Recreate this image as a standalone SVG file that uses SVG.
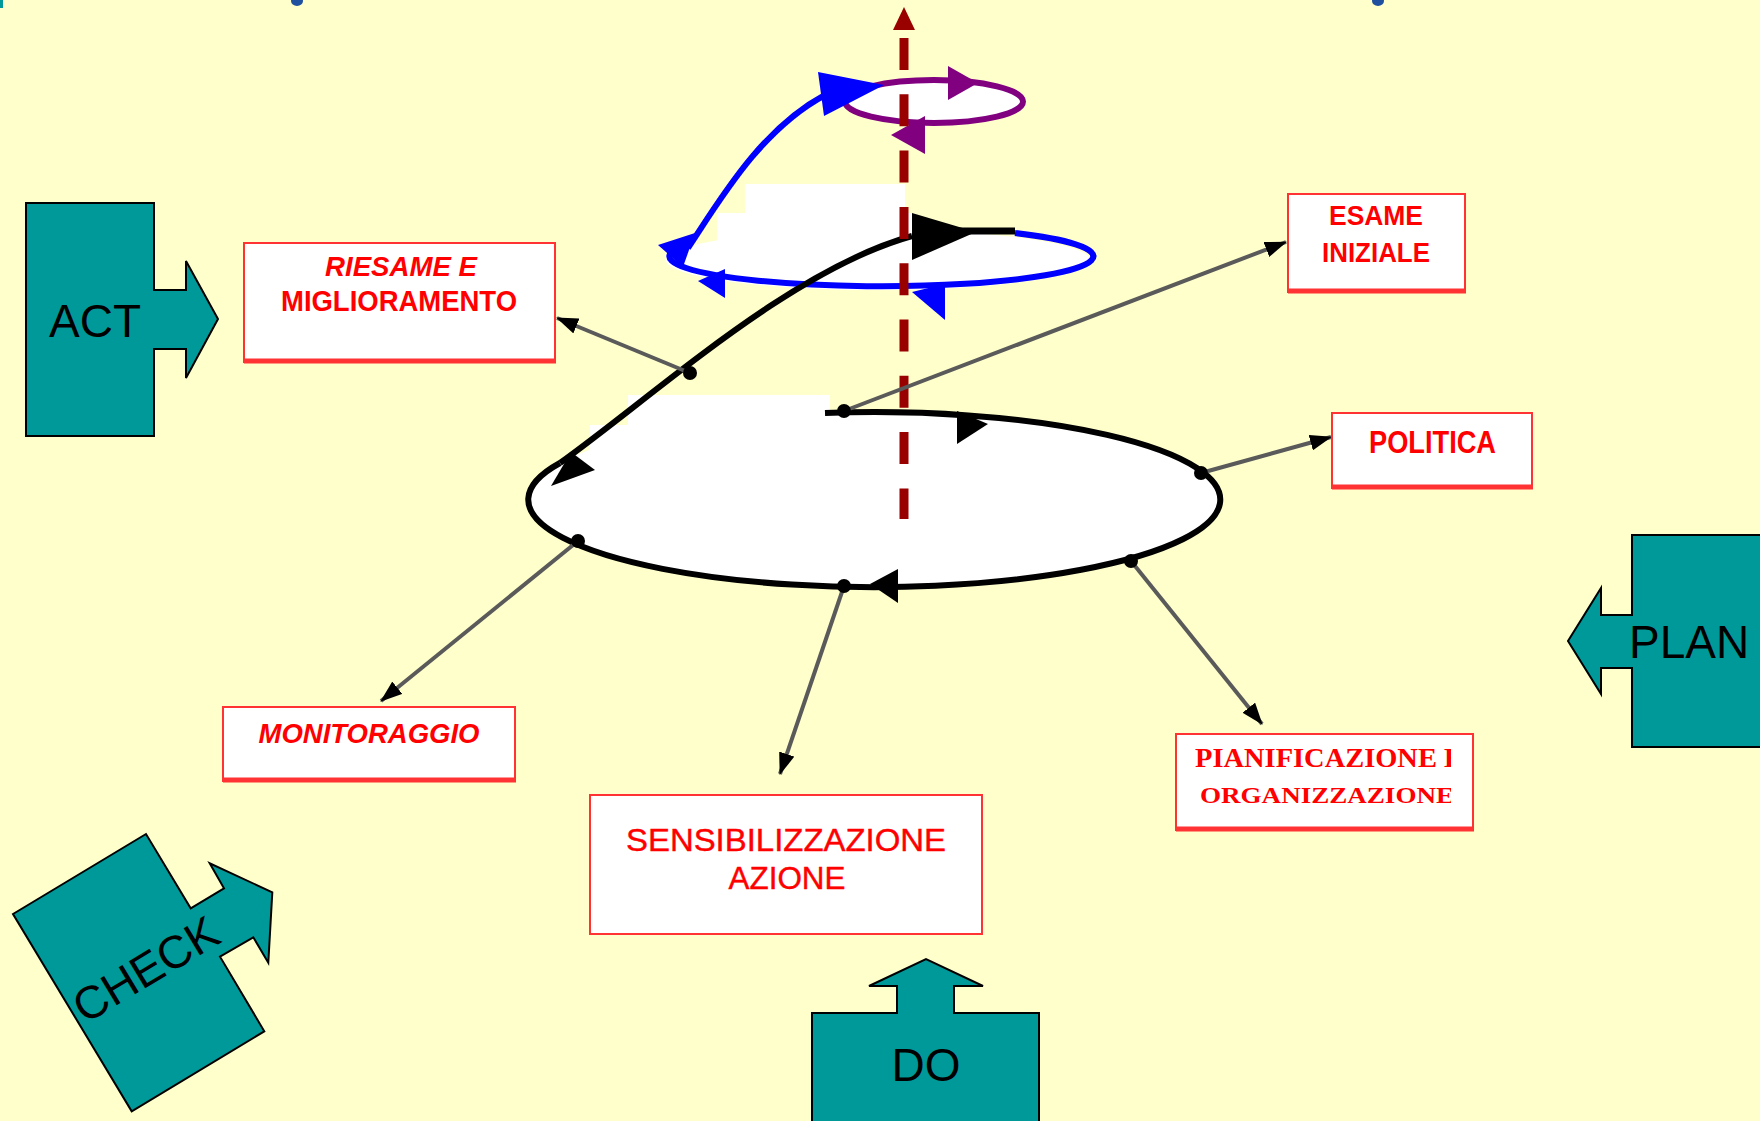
<svg xmlns="http://www.w3.org/2000/svg" width="1760" height="1121" viewBox="0 0 1760 1121">
<defs>
<style>
.teal{fill:#009999;stroke:#000;stroke-width:2;stroke-linejoin:miter}
.big{font-family:"Liberation Sans",Arial,sans-serif;font-size:46px;fill:#000}
.box{fill:#fff;stroke:#ff3333;stroke-width:2}
.boxb{stroke:#ff3333;stroke-width:5}
.lbl{font-family:"Liberation Sans",Arial,sans-serif;font-weight:bold;fill:#ff0000;text-anchor:middle}
.lblr{font-family:"Liberation Sans",Arial,sans-serif;font-weight:normal;fill:#ff0000;text-anchor:middle;stroke:#ff0000;stroke-width:0.4}
.serif{font-family:"Liberation Serif","Times New Roman",serif;font-weight:bold;fill:#ff0000}
.conn{stroke:#5a5a5a;stroke-width:4;fill:none;marker-end:url(#ah)}
.dot{fill:#000}
</style>
<marker id="ah" viewBox="0 0 22 16" refX="21" refY="8" markerWidth="22" markerHeight="16" markerUnits="userSpaceOnUse" orient="auto">
<path d="M0,0 L22,8 L0,16 Z" fill="#000"/>
</marker>
<clipPath id="pclip"><rect x="1175" y="732" width="276" height="100"/></clipPath>
</defs>
<rect x="0" y="0" width="1760" height="1121" fill="#ffffcc"/>
<g id="title-fragments">
<rect x="0" y="0" width="3" height="8" fill="#009999"/>
<ellipse cx="297" cy="1" rx="6" ry="5" fill="#1f4f9f"/>
<ellipse cx="1378" cy="1" rx="6" ry="5" fill="#1f4f9f"/>
</g>
<g id="cycle">
<ellipse cx="874" cy="499.5" rx="346" ry="87.5" fill="#fff"/>
<rect x="628" y="395" width="202" height="55" fill="#fff"/>
<rect x="590" y="425" width="40" height="25" fill="#fff"/>
<path d="M825,413 A346 87.5 0 1 1 560,463" fill="none" stroke="#000" stroke-width="6"/>
<polygon points="957,411 988,424 957,444" fill="#000"/>
<polygon points="870,584 898,569 898,603" fill="#000"/>
<ellipse cx="878" cy="260" rx="212" ry="30" fill="#fff"/>
<rect x="745" y="184" width="160" height="32" fill="#fff"/>
<rect x="717" y="213" width="195" height="50" fill="#fff"/>
<path d="M1015,233 A212 30 0 1 1 670,254" fill="none" stroke="#0000ff" stroke-width="6"/>
<polygon points="912,292 945,284 945,320" fill="#0000ff"/>
<polygon points="698,281 725,269 725,298" fill="#0000ff"/>
<path d="M688,248 C720,200 760,130 825,95" fill="none" stroke="#0000ff" stroke-width="6"/>
<polygon points="658,245 695,233 683,267" fill="#0000ff"/>
<ellipse cx="934" cy="101.5" rx="89" ry="21.5" fill="#fff" stroke="#800080" stroke-width="6"/>
<polygon points="948,66 978,83 948,100" fill="#800080"/>
<polygon points="891,135 925,116 925,154" fill="#800080"/>
<polygon points="818,72 884,85 824,116" fill="#0000ff"/>
<path d="M560,463 C655,395 790,270 912,236" fill="none" stroke="#000" stroke-width="6"/>
<polygon points="551,486 571,452 595,470" fill="#000"/>
<path d="M950,231 L1015,231" stroke="#000" stroke-width="7"/>
<polygon points="912,213 976,232 912,260" fill="#000"/>
<line x1="904" y1="38" x2="904" y2="519" stroke="#990000" stroke-width="9" stroke-dasharray="32 24.3"/>
<polygon points="904,7 893,30 915,30" fill="#990000"/>
</g>
<g id="connectors">
<line class="conn" x1="690" y1="373" x2="557" y2="318"/>
<line class="conn" x1="844" y1="411" x2="1286" y2="242"/>
<line class="conn" x1="1201" y1="473" x2="1331" y2="437"/>
<line class="conn" x1="1131" y1="561" x2="1262" y2="724"/>
<line class="conn" x1="844" y1="586" x2="780" y2="774"/>
<line class="conn" x1="578" y1="541" x2="381" y2="701"/>
</g>
<g id="dots">
<circle class="dot" cx="844" cy="411" r="7"/>
<circle class="dot" cx="1201" cy="473" r="7"/>
<circle class="dot" cx="1131" cy="561" r="7"/>
<circle class="dot" cx="844" cy="586" r="7"/>
<circle class="dot" cx="578" cy="541" r="7"/>
<circle class="dot" cx="690" cy="373" r="7"/>
</g>
<g id="riesame">
<rect class="box" x="244" y="243" width="311" height="119"/>
<line class="boxb" x1="244" y1="361" x2="556" y2="361"/>
<text class="lbl" x="401" y="276" font-size="28" font-style="italic" textLength="152" lengthAdjust="spacingAndGlyphs">RIESAME E</text>
<text class="lbl" x="399" y="311" font-size="29" textLength="236" lengthAdjust="spacingAndGlyphs">MIGLIORAMENTO</text>
</g>
<g id="esame">
<rect class="box" x="1288" y="194" width="177" height="98"/>
<line class="boxb" x1="1288" y1="291" x2="1466" y2="291"/>
<text class="lbl" x="1376" y="225" font-size="28" textLength="94" lengthAdjust="spacingAndGlyphs">ESAME</text>
<text class="lbl" x="1376" y="262" font-size="28" textLength="108" lengthAdjust="spacingAndGlyphs">INIZIALE</text>
</g>
<g id="politica">
<rect class="box" x="1332" y="413" width="200" height="75"/>
<line class="boxb" x1="1332" y1="487" x2="1533" y2="487" stroke-width="3"/>
<text class="lbl" x="1432.5" y="453" font-size="32" textLength="127" lengthAdjust="spacingAndGlyphs">POLITICA</text>
</g>
<g id="monitoraggio">
<rect class="box" x="223" y="707" width="292" height="74"/>
<line class="boxb" x1="223" y1="780" x2="516" y2="780"/>
<text class="lbl" x="369" y="743" font-size="28" font-style="italic" textLength="221" lengthAdjust="spacingAndGlyphs">MONITORAGGIO</text>
</g>
<g id="sensibilizzazione">
<rect class="box" x="590" y="795" width="392" height="139"/>
<text class="lblr" x="786" y="851" font-size="32" textLength="320" lengthAdjust="spacingAndGlyphs">SENSIBILIZZAZIONE</text>
<text class="lblr" x="787" y="889" font-size="32" textLength="117" lengthAdjust="spacingAndGlyphs">AZIONE</text>
</g>
<g id="pianificazione">
<rect class="box" x="1176" y="734" width="297" height="96"/>
<line class="boxb" x1="1176" y1="829" x2="1474" y2="829"/>
<g clip-path="url(#pclip)">
<text class="serif" x="1195" y="767" font-size="27" textLength="268" lengthAdjust="spacingAndGlyphs">PIANIFICAZIONE E</text>
<text class="serif" x="1200" y="803" font-size="24" textLength="254" lengthAdjust="spacingAndGlyphs">ORGANIZZAZIONE</text>
</g>
</g>
<g id="act">
<polygon class="teal" points="26,203 154,203 154,290 186,290 186,261 218,319 186,378 186,349 154,349 154,436 26,436"/>
<text class="big" x="49" y="337">ACT</text>
</g>
<g id="plan">
<polygon class="teal" points="1632,535 1762,535 1762,747 1632,747 1632,668 1601,668 1601,694 1568,641 1601,588 1601,615 1632,615"/>
<text class="big" x="1629" y="658">PLAN</text>
</g>
<g id="do">
<polygon class="teal" points="812,1013 897,1013 897,986 869,986 926,959 983,986 954,986 954,1013 1039,1013 1039,1125 812,1125"/>
<text class="big" x="926" y="1081" text-anchor="middle">DO</text>
</g>
<g id="check">
<polygon class="teal" points="13,914 146,834 190.7,908.3 224,888.3 209.7,863.3 272.3,892.3 268.3,962.7 253.3,937.3 220,956.7 264.3,1031.3 131.7,1111.3"/>
<text class="big" transform="translate(154,983) rotate(-31)" text-anchor="middle" font-size="48">CHECK</text>
</g>
</svg>
